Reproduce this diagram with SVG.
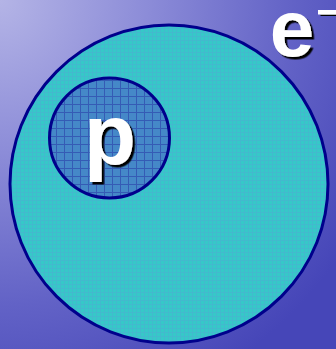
<svg xmlns="http://www.w3.org/2000/svg" width="336" height="349" viewBox="0 0 336 349">
  <defs>
    <radialGradient id="bg" cx="0" cy="0" r="1.25" gradientUnits="objectBoundingBox">
      <stop offset="0" stop-color="#b4b4e6"/>
      <stop offset="0.35" stop-color="#8c8cd8"/>
      <stop offset="0.7" stop-color="#6262c6"/>
      <stop offset="1" stop-color="#4646b8"/>
    </radialGradient>
    <pattern id="gridBig" width="4" height="4" patternUnits="userSpaceOnUse">
      <rect width="4" height="4" fill="#36c8c8"/>
      <path d="M0 0.5H4M0.5 0V4" stroke="#52a6d2" stroke-width="1" opacity="0.45"/>
    </pattern>
    <pattern id="gridSmall" width="8" height="8" patternUnits="userSpaceOnUse">
      <rect width="8" height="8" fill="#4588c8"/>
      <path d="M0 0.5H8M0.5 0V8" stroke="#3050b0" stroke-width="1" opacity="0.8"/>
    </pattern>
    <filter id="sh" x="-20%" y="-20%" width="140%" height="140%">
      <feDropShadow dx="2.5" dy="2.5" stdDeviation="0" flood-color="#000000"/>
    </filter>
    <style>
      .lbl { font-family: "Liberation Sans", Arial, sans-serif; font-weight: bold; fill: #ffffff; filter: url(#sh); }
      .ring { stroke: #00008c; stroke-width: 3; }
    </style>
  </defs>
  <rect width="336" height="349" fill="url(#bg)"/>
  <g id="electron">
    <circle class="ring" cx="169" cy="184" r="159" fill="url(#gridBig)"/>
  </g>
  <g id="proton">
    <circle class="ring" cx="109.5" cy="138" r="60" fill="url(#gridSmall)"/>
    <text class="lbl" x="110" y="164" font-size="85" text-anchor="middle">p</text>
  </g>
  <g id="electron-label">
    <text class="lbl" x="292" y="56" font-size="80" text-anchor="middle">e</text>
    <rect x="318" y="10" width="18" height="4.5" fill="#ffffff" filter="url(#sh)"/>
  </g>
</svg>
